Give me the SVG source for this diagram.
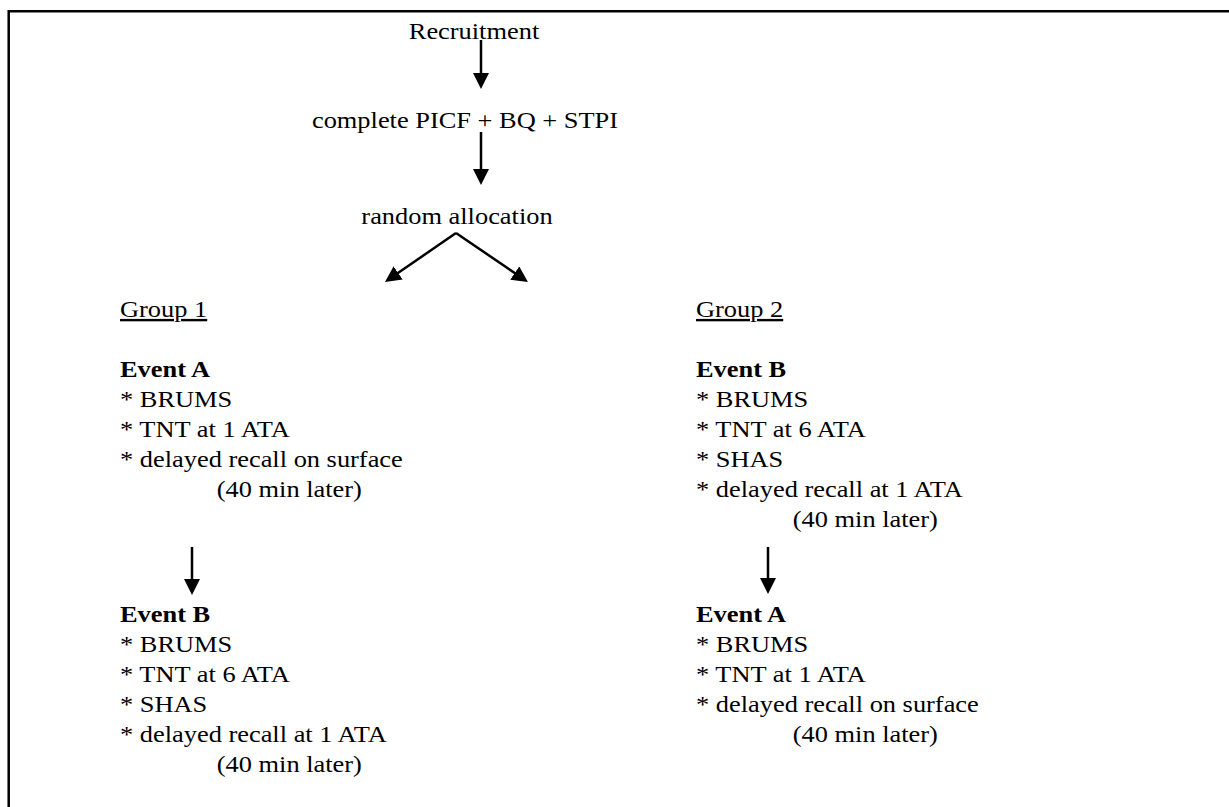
<svg xmlns="http://www.w3.org/2000/svg" width="1229" height="807" viewBox="0 0 1229 807">
<style>
text{font-family:"Liberation Serif","Times New Roman",serif;font-size:24px;fill:#000}
.c{text-anchor:middle}
.b{font-weight:bold}
.u{text-decoration:underline}
.ln{stroke:#000;stroke-width:2.5;fill:none}
</style>
<defs>
<marker id="ah" markerUnits="userSpaceOnUse" markerWidth="16" markerHeight="16" refX="6" refY="8" orient="auto" viewBox="0 0 16 16">
<path d="M0,0 L16,8 L0,16 z" fill="#000"/>
</marker>
</defs>
<rect width="1229" height="807" fill="#fff"/>
<path class="ln" d="M8.7,807 V11.3 H1229"/>
<g id="n-recruitment"><text class="c" transform="translate(474,39) scale(1.1,1)">Recruitment</text></g>
<g id="n-complete"><text class="c" transform="translate(465,128) scale(1.1,1)">complete PICF + BQ + STPI</text></g>
<g id="n-random"><text class="c" transform="translate(457,224) scale(1.1,1)">random allocation</text></g>
<g id="n-group1"><text class="u" transform="translate(120,317) scale(1.1,1)">Group 1</text></g>
<g id="n-g1-eventA" transform="translate(120,377) scale(1.1,1)">
<text class="b" x="0" y="0">Event A</text>
<text x="0" y="30">* BRUMS</text>
<text x="0" y="60">* TNT at 1 ATA</text>
<text x="0" y="90">* delayed recall on surface</text>
<text x="88" y="120">(40 min later)</text>
</g>
<g id="n-g1-eventB" transform="translate(120,622) scale(1.1,1)">
<text class="b" x="0" y="0">Event B</text>
<text x="0" y="30">* BRUMS</text>
<text x="0" y="60">* TNT at 6 ATA</text>
<text x="0" y="90">* SHAS</text>
<text x="0" y="120">* delayed recall at 1 ATA</text>
<text x="88" y="150">(40 min later)</text>
</g>
<g id="n-group2"><text class="u" transform="translate(696,317) scale(1.1,1)">Group 2</text></g>
<g id="n-g2-eventB" transform="translate(696,377) scale(1.1,1)">
<text class="b" x="0" y="0">Event B</text>
<text x="0" y="30">* BRUMS</text>
<text x="0" y="60">* TNT at 6 ATA</text>
<text x="0" y="90">* SHAS</text>
<text x="0" y="120">* delayed recall at 1 ATA</text>
<text x="88" y="150">(40 min later)</text>
</g>
<g id="n-g2-eventA" transform="translate(696,622) scale(1.1,1)">
<text class="b" x="0" y="0">Event A</text>
<text x="0" y="30">* BRUMS</text>
<text x="0" y="60">* TNT at 1 ATA</text>
<text x="0" y="90">* delayed recall on surface</text>
<text x="88" y="120">(40 min later)</text>
</g>
<g id="connectors">
<line class="ln" x1="481" y1="40" x2="481" y2="79" marker-end="url(#ah)"/>
<line class="ln" x1="481" y1="132" x2="481" y2="175" marker-end="url(#ah)"/>
<line class="ln" x1="456" y1="233" x2="393.2" y2="276.3" marker-end="url(#ah)"/>
<line class="ln" x1="456" y1="233" x2="519.7" y2="276.4" marker-end="url(#ah)"/>
<line class="ln" x1="192" y1="547" x2="192" y2="585" marker-end="url(#ah)"/>
<line class="ln" x1="768" y1="547" x2="768" y2="584" marker-end="url(#ah)"/>
</g>
</svg>
